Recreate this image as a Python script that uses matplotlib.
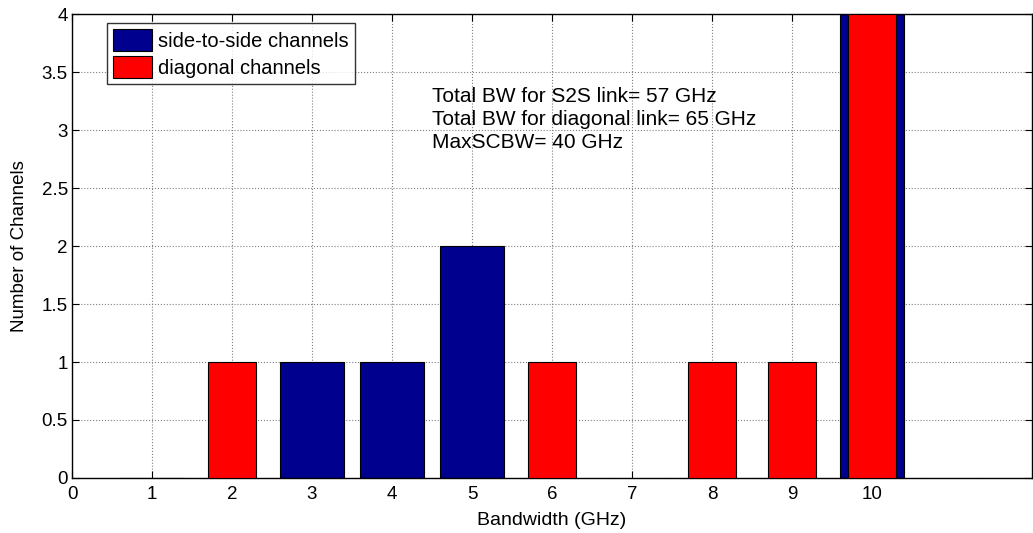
import matplotlib
matplotlib.use("Agg")
from matplotlib import pyplot as plt

plt.rcParams['font.family'] = ['Liberation Sans', 'DejaVu Sans']

# bandwidth slots (GHz) and channel counts
s2s_bw = [1, 3, 4, 5, 10]
s2s_count = [0, 1, 1, 2, 4]
diag_bw = [2, 6, 8, 9, 10]
diag_count = [1, 1, 1, 1, 4]
x_ticks = list(range(0, 11))
y_ticks = [0, 0.5, 1, 1.5, 2, 2.5, 3, 3.5, 4]

info_lines = ["Total BW for S2S link= 57 GHz",
              "Total BW for diagonal link= 65 GHz",
              "MaxSCBW= 40 GHz"]

NAVY = '#00008f'
RED = '#ff0000'

fig = plt.figure(figsize=(10.33, 5.33), dpi=100)
ax = fig.add_axes([0.0697, 0.1032, 0.9293, 0.8705])

ax.bar(s2s_bw, s2s_count, width=0.8, color=NAVY, edgecolor='black',
       linewidth=0.8, label='side-to-side channels', zorder=2)
ax.bar(diag_bw, diag_count, width=0.6, color=RED, edgecolor='black',
       linewidth=0.8, label='diagonal channels', zorder=3)

ax.set_xlim(0, 12)
ax.set_ylim(0, 4)
ax.set_xticks(x_ticks)
ax.set_yticks(y_ticks)
ax.set_yticklabels(['0', '0.5', '1', '1.5', '2', '2.5', '3', '3.5', '4'])
ax.tick_params(direction='in', length=5, width=0.8, top=True, right=True,
               labelsize=13.5, pad=3)
ax.tick_params(axis='x', pad=6)
ax.grid(True, color='#808080', linestyle=':', linewidth=0.8, zorder=0)
ax.set_axisbelow(True)
for sp in ax.spines.values():
    sp.set_linewidth(1.0)

ax.set_xlabel('Bandwidth (GHz)', fontsize=14, labelpad=6)
ax.set_ylabel('Number of Channels', fontsize=13.5, labelpad=10)

ax.text(4.5, 3.09, "\n".join(info_lines), fontsize=15, va='center',
        ha='left', linespacing=1.27, zorder=4)

leg = ax.legend(loc='upper left', bbox_to_anchor=(0.036, 0.981),
                fontsize=14.5, frameon=True, fancybox=False,
                handlelength=1.95, handleheight=1.3, handletextpad=0.3,
                borderpad=0.3, labelspacing=0.28, borderaxespad=0)
leg.get_frame().set_edgecolor('black')
leg.get_frame().set_linewidth(1.0)

fig.savefig('out.png', dpi=100)
plt.close(fig)
